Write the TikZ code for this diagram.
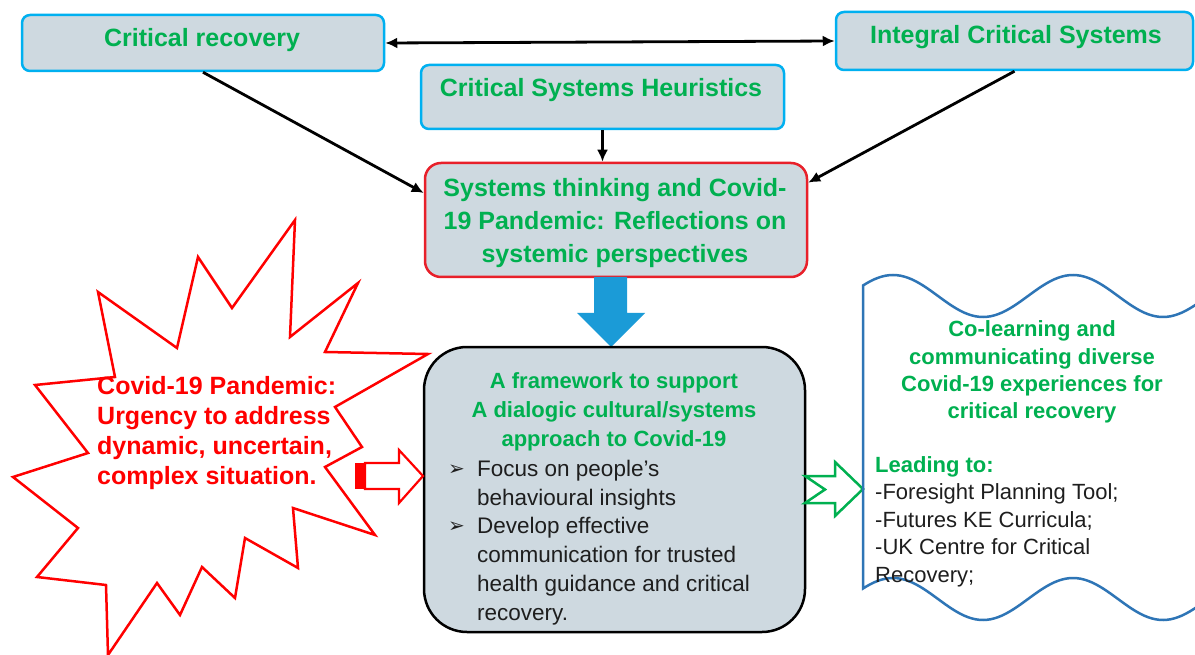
\documentclass[tikz,border=0pt]{standalone}
\usepackage{fontspec}
\setmainfont{Liberation Sans}
\newfontfamily\dejavu{DejaVu Sans}
\usetikzlibrary{arrows.meta,calc}
\definecolor{tgreen}{RGB}{0,176,80}
\definecolor{boxfill}{RGB}{206,217,224}
\definecolor{lblue}{RGB}{0,176,240}
\definecolor{stred}{RGB}{232,32,42}
\definecolor{starred}{RGB}{255,0,0}
\definecolor{barrow}{RGB}{27,155,215}
\definecolor{waveblue}{RGB}{46,117,182}
\definecolor{txt}{RGB}{30,30,30}
\tikzset{
  bluebox/.style={draw=lblue, line width=2.5pt, fill=boxfill, rounded corners=8pt, inner sep=0pt},
  redbox/.style={draw=stred, line width=2.5pt, fill=boxfill, rounded corners=16pt, inner sep=0pt},
  fwbox/.style={draw=black, line width=2.5pt, fill=boxfill, rounded corners=43pt, inner sep=0pt},
  ttl/.style={font=\fontsize{25}{30}\selectfont\bfseries, text=tgreen, anchor=base, inner sep=0pt},
  ttlm/.style={font=\fontsize{22}{27}\selectfont\bfseries, text=tgreen, anchor=base, inner sep=0pt},
  body/.style={font=\fontsize{22.5}{27}\selectfont, text=txt, anchor=base west, inner sep=0pt},
  startxt/.style={font=\fontsize{25}{30}\selectfont\bfseries, text=starred, anchor=base west, inner sep=0pt},
  tip/.style={},
  conn/.style={draw=black, line width=2.8pt, -{Latex[length=12pt,width=11pt]}},
  starline/.style={draw=starred, line width=2.5pt, fill=white, line join=miter},
  redarr/.style={draw=starred, line width=2.2pt, fill=white},
  greenarr/.style={draw=tgreen, line width=2.5pt, fill=white},
  wave/.style={draw=waveblue, line width=2.5pt},
}
\begin{document}
\begin{tikzpicture}[x=1pt,y=-1pt]
\useasboundingbox (0,0) rectangle (1195,655);
\fill[white] (0,0) rectangle (1195,655);

% top boxes
\node[bluebox, minimum width=362pt, minimum height=56pt] (cr) at (203,43) {};
\node[ttl] (crt) at (202,47) {Critical recovery};
\node[bluebox, minimum width=357pt, minimum height=58pt] (ics) at (1014.5,41) {};
\node[ttl] (icst) at (1016,44) {Integral Critical Systems};
\node[bluebox, minimum width=363pt, minimum height=64pt] (csh) at (602.5,97) {};
\node[ttl] (csht) at (601,97) {Critical Systems Heuristics};

% systems thinking box
\node[redbox, minimum width=382pt, minimum height=114pt] (st) at (616,220) {};
\node[ttl] (st1) at (615,197) {Systems thinking and Covid-};
\node[ttl] (st2) at (615,230) {19 Pandemic: Reflections on};
\node[ttl] (st3) at (615,263) {systemic perspectives};

% connectors
\draw[conn, {Latex[length=12pt,width=11pt]}-{Latex[length=12pt,width=11pt]}] (cr.east) -- (ics.west);
\draw[conn] (cr.south) -- (st.172.5);
\draw[conn] (ics.south) -- (st.11);
\draw[conn] (csh.south) -- (csh.south |- st.north);

% blue block arrow
\fill[barrow] (594,277) -- (627,277) -- (627,313) -- (645,313) -- (611,347) -- (577,313) -- (594,313) -- cycle;

% explosion star
\draw[starline] (295,220) -- (290,337) -- (358,283) -- (325,352) -- (428,354) -- (335,407) -- (362,447) -- (325,467) -- (375,535) -- (293,508) -- (298,568) -- (245,538) -- (235,598) -- (202,567) -- (180,615) -- (157,583) -- (108,655) -- (106,585) -- (37,577) -- (78,528) -- (13,477) -- (88,453) -- (35,385) -- (115,377) -- (98,292) -- (177,348) -- (198,257) -- (232,308) -- cycle;
\node[startxt] (sx1) at (97,394) {Covid-19 Pandemic:};
\node[startxt] (sx2) at (97,424) {Urgency to address};
\node[startxt] (sx3) at (97,454) {dynamic, uncertain,};
\node[startxt] (sx4) at (97,484) {complex situation.};

% framework box
\node[fwbox, minimum width=381pt, minimum height=285pt] (fw) at (614.5,489.5) {};
\node[ttlm] (fw1) at (614,388) {A framework to support};
\node[ttlm] (fw2) at (614,417) {A dialogic cultural/systems};
\node[ttlm] (fw3) at (614,446) {approach to Covid-19};
\node[body, font=\dejavu\fontsize{20}{24}\selectfont] (b1) at (448,475) {➢};
\node[body, font=\dejavu\fontsize{20}{24}\selectfont] (b2) at (448,532) {➢};
\node[body] (fb1) at (477,476) {Focus on people’s};
\node[body] (fb2) at (477,505) {behavioural insights};
\node[body] (fb3) at (477,533) {Develop effective};
\node[body] (fb4) at (477,562) {communication for trusted};
\node[body] (fb5) at (477,591) {health guidance and critical};
\node[body] (fb6) at (477,620) {recovery.};

% red striped arrow
\fill[starred] (355,463) rectangle (365,489);
\draw[redarr] (365,463) -- (399,463) -- (399,450) -- (423,476) -- (399,503) -- (399,489) -- (365,489) -- cycle;

% green notched arrow
\draw[greenarr] (805,476) -- (835,476) -- (835,462) -- (863,489) -- (835,516) -- (835,503) -- (805,503) -- (825,489.5) -- cycle;

% wave box
\draw[wave] plot[domain=1197:863, samples=90] (\x,{296-21*cos(2*(\x-893))}) -- plot[domain=863:1197, samples=90] (\x,{599-21*cos(2*(\x-893))});
\node[ttlm] (w1) at (1032,337) {Co-learning and};
\node[ttlm] (w2) at (1032,364) {communicating diverse};
\node[ttlm] (w3) at (1032,391) {Covid-19 experiences for};
\node[ttlm] (w4) at (1032,418) {critical recovery};
\node[ttlm, anchor=base west] (w5) at (875,472) {Leading to:};
\node[body, font=\fontsize{22}{27}\selectfont] (w6) at (875,499) {-Foresight Planning Tool;};
\node[body, font=\fontsize{22}{27}\selectfont] (w7) at (875,527) {-Futures KE Curricula;};
\node[body, font=\fontsize{22}{27}\selectfont] (w8) at (875,554) {-UK Centre for Critical};
\node[body, font=\fontsize{22}{27}\selectfont] (w9) at (875,582) {Recovery;};
\end{tikzpicture}
\end{document}
